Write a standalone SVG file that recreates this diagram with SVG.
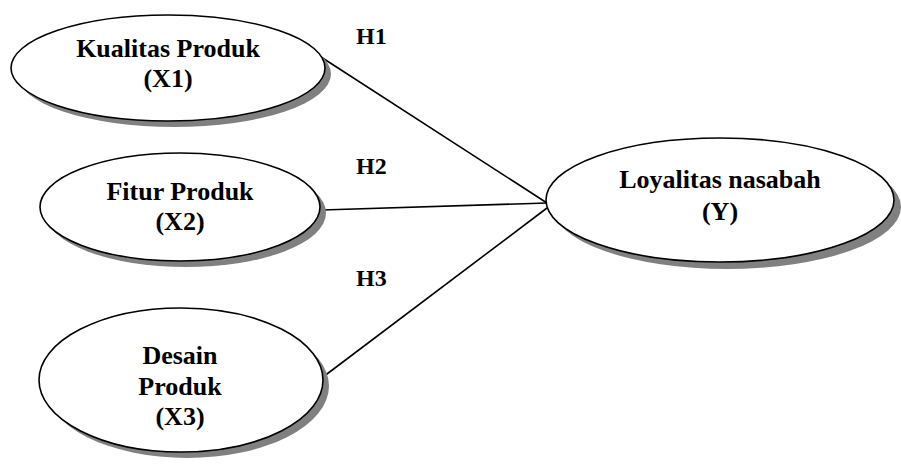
<svg xmlns="http://www.w3.org/2000/svg" width="901" height="464" viewBox="0 0 901 464">
<style>
.sh{fill:#808080;stroke:none}
.el{fill:#ffffff;stroke:#000000;stroke-width:1.6}
.t{font-family:"Liberation Serif","Times New Roman",serif;font-weight:bold;font-size:26px;fill:#000000;text-anchor:middle}
.h{font-family:"Liberation Serif","Times New Roman",serif;font-weight:bold;font-size:24px;fill:#000000}
.c{stroke:#000000;stroke-width:1.6;fill:none}
</style>
<rect width="901" height="464" fill="#ffffff"/>
<g id="connectors">
<line class="c" x1="321" y1="57" x2="547" y2="203"/>
<line class="c" x1="322" y1="210" x2="547" y2="203"/>
<line class="c" x1="323" y1="377" x2="547" y2="208"/>
</g>
<g id="labels">
<text class="h" x="356" y="44">H1</text>
<text class="h" x="356" y="174">H2</text>
<text class="h" x="356" y="286">H3</text>
</g>
<g id="x1">
<ellipse class="sh" cx="174" cy="74" rx="157" ry="53"/>
<ellipse class="el" cx="168" cy="68" rx="157" ry="53"/>
<text class="t" x="168" y="57">Kualitas Produk</text>
<text class="t" x="168" y="87">(X1)</text>
</g>
<g id="x2">
<ellipse class="sh" cx="186" cy="213" rx="140" ry="54"/>
<ellipse class="el" cx="180" cy="207" rx="140" ry="54"/>
<text class="t" x="180" y="200">Fitur Produk</text>
<text class="t" x="180" y="230">(X2)</text>
</g>
<g id="x3">
<ellipse class="sh" cx="187" cy="386" rx="142" ry="72"/>
<ellipse class="el" cx="181" cy="380" rx="142" ry="72"/>
<text class="t" x="180" y="364">Desain</text>
<text class="t" x="180" y="395">Produk</text>
<text class="t" x="180" y="425">(X3)</text>
</g>
<g id="y">
<ellipse class="sh" cx="727" cy="207" rx="174" ry="62"/>
<ellipse class="el" cx="720" cy="200" rx="174" ry="62"/>
<text class="t" x="720" y="188">Loyalitas nasabah</text>
<text class="t" x="720" y="220">(Y)</text>
</g>
</svg>
